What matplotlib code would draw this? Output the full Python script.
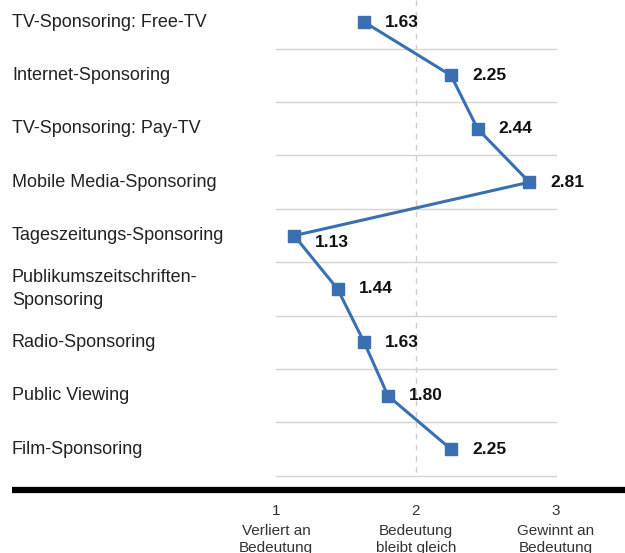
import matplotlib
matplotlib.use("Agg")
import matplotlib.pyplot as plt

plt.rcParams["font.family"] = ["Liberation Sans", "DejaVu Sans"]

# Bewertung je Sponsoring-Form (1 = verliert, 2 = gleich, 3 = gewinnt)
kategorien = [
    "TV-Sponsoring: Free-TV",
    "Internet-Sponsoring",
    "TV-Sponsoring: Pay-TV",
    "Mobile Media-Sponsoring",
    "Tageszeitungs-Sponsoring",
    "Publikumszeitschriften-\nSponsoring",
    "Radio-Sponsoring",
    "Public Viewing",
    "Film-Sponsoring",
]
werte = [1.63, 2.25, 2.44, 2.81, 1.13, 1.44, 1.63, 1.80, 2.25]
skala = [1, 2, 3]
skala_text = ["Verliert an\nBedeutung", "Bedeutung\nbleibt gleich", "Gewinnt an\nBedeutung"]

blau = "#3a6fb1"
n = len(kategorien)
pos = list(range(n))

fig = plt.figure(figsize=(6.25, 5.53), dpi=100)
ax = fig.add_axes([0, 0, 1, 1])
ax.set_xlim(-0.9714, 3.4929)
ax.set_ylim(9.944, -0.412)
ax.axis("off")

# Trennlinien zwischen den Zeilen und gestrichelte Mitte
for i in range(n):
    ax.plot([skala[0], skala[-1]], [i + 0.5, i + 0.5], color="#d4d4d4", lw=1, zorder=1)
ax.plot([2, 2], [-0.412, n - 0.5], color="#cfcfcf", lw=1, ls=(0, (4, 4)), zorder=1)

ax.plot(werte, pos, color=blau, lw=2.2, marker="s", markersize=9, zorder=3)

for i, (k, w) in enumerate(zip(kategorien, werte)):
    ax.text(-0.8857, i, k, ha="left", va="center", fontsize=13, color="#222222",
            linespacing=1.45)
    dy = 0.12 if i == 4 else 0
    ax.text(w + 0.15, i + dy, f"{w:.2f}", ha="left", va="center", fontsize=12.5,
            fontweight="bold", color="#111111")

# dicke Achsenlinie unten
ax.plot([-0.8857, 3.4929], [8.76, 8.76], color="black", lw=4.5, solid_capstyle="butt")

for s, t in zip(skala, skala_text):
    ax.text(s, 9.15, str(s), ha="center", va="center", fontsize=11, color="#333333")
    ax.text(s, 9.41, t, ha="center", va="top", fontsize=11, color="#333333",
            linespacing=1.2)

fig.savefig("out.png", dpi=100)
